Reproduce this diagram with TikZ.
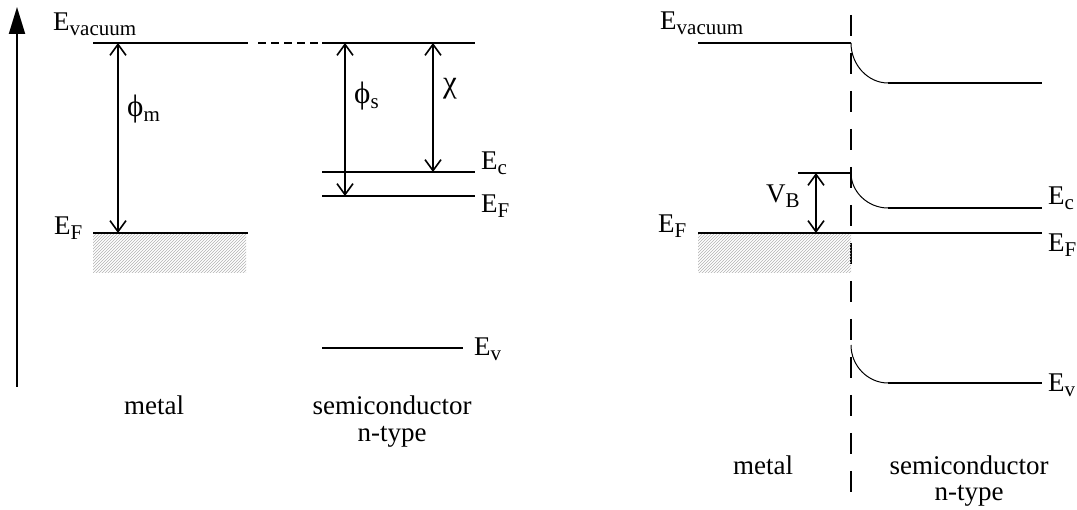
\documentclass[tikz,border=0pt]{standalone}
\usepackage{fontspec}
\setmainfont{Liberation Serif}
\usetikzlibrary{arrows.meta,patterns}

\newcommand\lvsub[1]{\raisebox{-5pt}{\fontsize{21}{24}\selectfont #1}}
\newcommand\grk[1]{{\fontsize{31}{34}\selectfont #1}}

\tikzset{
  level/.style={line width=2pt},
  bandbend/.style={line width=1pt},
  axis/.style={line width=2pt, -{Triangle[length=27pt,width=16pt]}},
  gap/.style={line width=1.6pt,
    {Straight Barb[length=11pt,width=16pt]}-{Straight Barb[length=11pt,width=16pt]}},
  lbl/.style={anchor=base west, inner sep=0pt},
  sidetext/.style={anchor=center, inner sep=0pt},
  filled/.style={pattern=north east lines, pattern color=gray!60},
  iface/.style={line width=2pt, dash pattern=on 21pt off 17pt}
}

\begin{document}
\begin{tikzpicture}[x=1pt, y=-1pt, font=\fontsize{27}{30}\selectfont]
    \useasboundingbox (0,0) rectangle (1077,510);
    % energy axis
    \coordinate (axbot) at (17,387);
    \coordinate (axtop) at (17,7);
    \draw[axis] (axbot) -- (axtop);
    % metal, apart
    \coordinate (mvacL) at (93,43);
    \coordinate (mvacR) at (248,43);
    \coordinate (mefL) at (93,233);
    \coordinate (mefR) at (248,233);
    \coordinate (mbot) at (246,273);
    \fill[filled] (mefL) rectangle (mbot);
    \draw[level] (mvacL) -- (mvacR);
    \draw[level] (mefL) -- (mefR);
    \node[lbl] (evacA) at (53,31) {E\lvsub{vacuum}};
    \node[lbl] (efA) at (54,235) {E\lvsub{F}};
    \coordinate (phimT) at (118,43);
    \coordinate (phimB) at (118,233);
    \draw[gap] (phimT) -- (phimB);
    \node[lbl] (phim) at (127,117) {\grk{ϕ}\lvsub{m}};
    % vacuum level carried over
    \coordinate (joinL) at (258,43);
    \coordinate (joinR) at (318,43);
    \draw[line width=1.6pt, dash pattern=on 8pt off 5pt] (joinL) -- (joinR);
    % semiconductor, apart
    \coordinate (svacL) at (322,43);
    \coordinate (svacR) at (475,43);
    \coordinate (secL) at (322,172);
    \coordinate (secR) at (475,172);
    \coordinate (sefL) at (322,196);
    \coordinate (sefR) at (475,196);
    \coordinate (sevL) at (322,348);
    \coordinate (sevR) at (463,348);
    \draw[level] (svacL) -- (svacR);
    \draw[level] (secL) -- (secR);
    \draw[level] (sefL) -- (sefR);
    \draw[level] (sevL) -- (sevR);
    \node[lbl] (ecA) at (481,170) {E\lvsub{c}};
    \node[lbl] (efB) at (481,213) {E\lvsub{F}};
    \node[lbl] (evA) at (474,356) {E\lvsub{v}};
    \coordinate (phisT) at (345,43);
    \coordinate (phisB) at (345,196);
    \draw[gap] (phisT) -- (phisB);
    \node[lbl] (phis) at (354,104) {\grk{ϕ}\lvsub{s}};
    \coordinate (chiT) at (433,43);
    \coordinate (chiB) at (433,172);
    \draw[gap] (chiT) -- (chiB);
    \node[lbl] (chi) at (443,93) {\grk{χ}};
    \node[sidetext] (metalA) at (154,405) {metal};
    \node[sidetext] (semiA) at (392,405) {semiconductor};
    \node[sidetext] (ntypeA) at (392,437) {n-type};

    % junction
    \coordinate (ifT) at (851,15);
    \coordinate (ifB) at (851,504);
    \draw[iface] (ifT) -- (ifB);
    \coordinate (jvacL) at (698,43);
    \coordinate (jvacM) at (851,43);
    \coordinate (jvacK) at (888,83);
    \coordinate (jvacR) at (1042,83);
    \coordinate (jecL) at (798,173);
    \coordinate (jecM) at (851,173);
    \coordinate (jecK) at (888,208);
    \coordinate (jecR) at (1042,208);
    \coordinate (jefL) at (698,233);
    \coordinate (jefM) at (851,233);
    \coordinate (jefR) at (1042,233);
    \coordinate (jbot) at (851,273);
    \coordinate (jevM) at (851,345);
    \coordinate (jevK) at (888,383);
    \coordinate (jevR) at (1042,383);
    \fill[filled] (jefL) rectangle (jbot);
    \draw[level] (jvacL) -- (jvacM);
    \draw[bandbend] (jvacM) .. controls ++(0,22) and ++(-20,0) .. (jvacK);
    \draw[level] (jvacK) -- (jvacR);
    \draw[level] (jecL) -- (jecM);
    \draw[bandbend] (jecM) .. controls ++(0,19) and ++(-20,0) .. (jecK);
    \draw[level] (jecK) -- (jecR);
    \draw[level] (jefL) -- (jefR);
    \draw[bandbend] (jevM) .. controls ++(0,21) and ++(-20,0) .. (jevK);
    \draw[level] (jevK) -- (jevR);
    \node[lbl] (evacB) at (660,30) {E\lvsub{vacuum}};
    \node[lbl] (efC) at (658,233) {E\lvsub{F}};
    \node[lbl] (ecB) at (1048,205) {E\lvsub{c}};
    \node[lbl] (efD) at (1048,252) {E\lvsub{F}};
    \node[lbl] (evB) at (1048,392) {E\lvsub{v}};
    \coordinate (vbT) at (816,173);
    \coordinate (vbB) at (816,233);
    \draw[gap] (vbT) -- (vbB);
    \node[lbl] (vb) at (766,203) {V\lvsub{B}};
    \node[sidetext] (metalB) at (763,465) {metal};
    \node[sidetext] (semiB) at (969,465) {semiconductor};
    \node[sidetext] (ntypeB) at (969,496) {n-type};
\end{tikzpicture}
\end{document}
